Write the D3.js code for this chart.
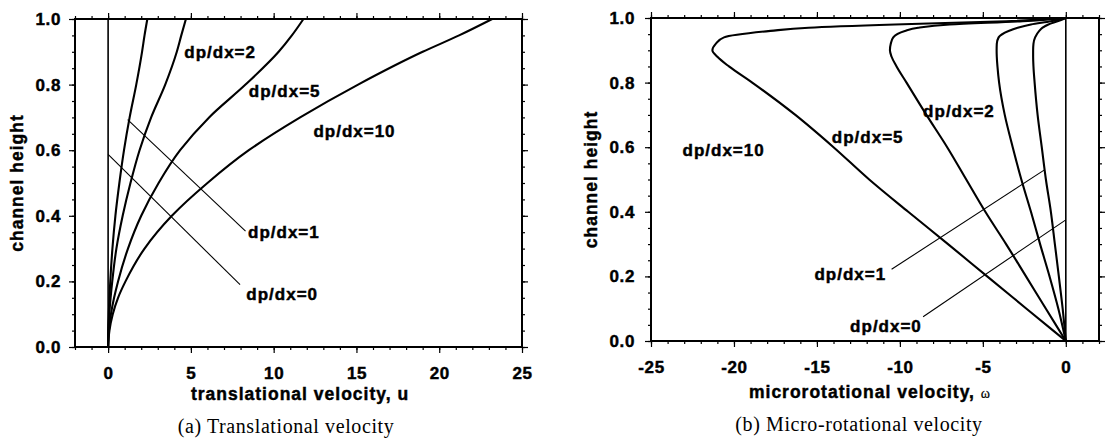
<!DOCTYPE html>
<html>
<head>
<meta charset="utf-8">
<script src="https://cdn.jsdelivr.net/npm/d3@7"></script>
<style>
  body { margin: 0; background: #fff; }
  svg text { font-family: "Liberation Sans", Arial, sans-serif; font-weight: bold; fill: #000; }
  svg text.heavy { stroke: #000; stroke-width: 0.45px; }
</style>
</head>
<body>
<svg id="chart" width="1115" height="441"></svg>
<script>
// ---- data ----

// (a) translational velocity u at each channel height
const uHeights = [0, 0.05, 0.1, 0.15, 0.2, 0.3, 0.4, 0.5, 0.6, 0.7, 0.8, 0.9, 0.95, 1.0];
const uGrad0   = [0, 0, 0, 0, 0, 0, 0, 0, 0, 0, 0, 0, 0, 0];
const uGrad1   = [0, 0.01, 0.04, 0.08, 0.13, 0.26, 0.44, 0.68, 0.96, 1.3, 1.7, 2.05, 2.2, 2.37];
const uGrad2   = [0, 0.02, 0.07, 0.15, 0.25, 0.5, 0.88, 1.35, 1.9, 2.6, 3.45, 4.15, 4.42, 4.7];
const uGrad5   = [0, 0.05, 0.17, 0.36, 0.6, 1.2, 2.0, 3.05, 4.35, 6.1, 8.3, 10.3, 11.1, 11.8];
const uGrad10  = [0, 0.08, 0.28, 0.6, 1.05, 2.2, 3.85, 6.0, 8.5, 11.6, 15.1, 19.0, 21.2, 23.2];

// (b) microrotational velocity w at each channel height
const wHeights = [0, 0.1, 0.2, 0.3, 0.4, 0.5, 0.6, 0.7, 0.8, 0.85, 0.88, 0.9, 0.92, 0.94, 0.96, 0.97, 0.98, 0.99, 1.0];
const wGrad0   = [0, 0, 0, 0, 0, 0, 0, 0, 0, 0, 0, 0, 0, 0, 0, 0, 0, 0, 0];
const wGrad1   = [0, -0.19, -0.42, -0.66, -0.9, -1.2, -1.45, -1.7, -1.88, -1.95, -1.97, -1.97, -1.95, -1.85, -1.6, -1.4, -1.05, -0.5, 0];
const wGrad2   = [0, -0.45, -0.98, -1.55, -2.1, -2.68, -3.2, -3.68, -4.02, -4.12, -4.16, -4.17, -4.16, -4.05, -3.45, -2.9, -2.1, -0.9, 0];
const wGrad5   = [0, -1.2, -2.4, -3.6, -4.85, -6.0, -7.15, -8.4, -9.6, -10.2, -10.5, -10.6, -10.55, -10.4, -9.7, -8.9, -7.0, -2.6, 0];
const wGrad10  = [0, -2.37, -4.74, -7.1, -9.5, -11.85, -14.0, -16.3, -18.9, -20.3, -21.0, -21.3, -21.1, -20.6, -17.8, -15.5, -10.3, -3.6, 0];

// axis ticks
const uTicks = [0, 5, 10, 15, 20, 25];
const wTicks = [-25, -20, -15, -10, -5, 0];
const hTicks = [0, 0.2, 0.4, 0.6, 0.8, 1.0];

// curve labels: text, left edge (x units), centre height
const uLabels = [
  { text: "dp/dx=2",  at: 4.6,  h: 0.9 },
  { text: "dp/dx=5",  at: 8.5,  h: 0.78 },
  { text: "dp/dx=10", at: 12.4, h: 0.66 },
  { text: "dp/dx=1",  at: 8.45, h: 0.35 },
  { text: "dp/dx=0",  at: 8.35, h: 0.162 }
];
const wLabels = [
  { text: "dp/dx=10", at: -23.1, h: 0.592 },
  { text: "dp/dx=5",  at: -14.1, h: 0.631 },
  { text: "dp/dx=2",  at: -8.6,  h: 0.711 },
  { text: "dp/dx=1",  at: -15.15, h: 0.208 },
  { text: "dp/dx=0",  at: -13.0, h: 0.048 }
];
// thin leader lines from curve to label
const uLeaders = [
  [[0, 0.587], [7.97, 0.19]],
  [[1.18, 0.693], [8.3, 0.353]]
];
const wLeaders = [
  [[-1.31, 0.529], [-10.5, 0.222]],
  [[0, 0.375], [-8.6, 0.075]]
];

const svg = d3.select("#chart");

function drawPanel(p) {
  const x = d3.scaleLinear().domain(p.xDomain).range([p.left, p.right]);
  const y = d3.scaleLinear().domain([0, 1]).range([p.bottom, p.top]);
  const g = svg.append("g");

  // minor ticks on all four sides
  const minorX = d3.range(p.xDomain[0], p.xDomain[1] + 0.001, 1);
  const minorY = d3.range(0, 1.001, 0.05);
  const strip = sel => sel.call(s => s.select(".domain").remove())
    .selectAll("line").attr("stroke", "#000").attr("stroke-width", 1.2);

  g.append("g").attr("transform", `translate(0,${p.bottom})`)
    .call(d3.axisBottom(x).tickValues(minorX).tickSize(3).tickFormat("")).call(strip);
  g.append("g").attr("transform", `translate(0,${p.top})`)
    .call(d3.axisTop(x).tickValues(minorX).tickSize(3).tickFormat("")).call(strip);
  g.append("g").attr("transform", `translate(${p.left},0)`)
    .call(d3.axisLeft(y).tickValues(minorY).tickSize(3).tickFormat("")).call(strip);
  g.append("g").attr("transform", `translate(${p.right},0)`)
    .call(d3.axisRight(y).tickValues(minorY).tickSize(3).tickFormat("")).call(strip);

  // major ticks
  g.append("g").attr("transform", `translate(0,${p.top})`)
    .call(d3.axisTop(x).tickValues(p.xTicks).tickSize(6).tickFormat("")).call(strip);
  g.append("g").attr("transform", `translate(${p.right},0)`)
    .call(d3.axisRight(y).tickValues(hTicks).tickSize(6).tickFormat("")).call(strip);

  // plain hyphen minus, as in the original print
  const xb = g.append("g").attr("transform", `translate(0,${p.bottom})`)
    .call(d3.axisBottom(x).tickValues(p.xTicks).tickSize(6).tickPadding(14).tickFormat(d => String(d)));
  strip(xb);
  xb.attr("font-size", null).attr("font-family", null);
  xb.selectAll("text").attr("class", "heavy").style("font-size", "17px").style("letter-spacing", "0.6px");

  const yl = g.append("g").attr("transform", `translate(${p.left},0)`)
    .call(d3.axisLeft(y).tickValues(hTicks).tickSize(6).tickPadding(p.yPad).tickFormat(d3.format(".1f")));
  strip(yl);
  yl.attr("font-size", null).attr("font-family", null);
  yl.selectAll("text").attr("class", "heavy").style("font-size", "17px").style("letter-spacing", "0.6px");

  // curves
  const line = d3.line()
    .x(d => x(d[0]))
    .y(d => y(d[1]))
    .curve(d3.curveMonotoneY);
  p.series.forEach((vals, i) => {
    g.append("path")
      .datum(vals.map((v, k) => [v, p.heights[k]]))
      .attr("fill", "none")
      .attr("stroke", "#000")
      .attr("stroke-width", i === 0 ? 1.6 : 2.1)
      .attr("stroke-linejoin", "round")
      .attr("d", line);
  });

  // leader lines
  p.leaders.forEach(seg => {
    g.append("line")
      .attr("x1", x(seg[0][0])).attr("y1", y(seg[0][1]))
      .attr("x2", x(seg[1][0])).attr("y2", y(seg[1][1]))
      .attr("stroke", "#000").attr("stroke-width", 1.1);
  });

  // curve labels
  g.selectAll("text.lbl")
    .data(p.labels)
    .join("text")
      .attr("class", "lbl heavy")
      .attr("x", d => x(d.at))
      .attr("y", d => y(d.h))
      .attr("dy", "0.36em")
      .style("font-size", "17px")
      .style("letter-spacing", "1px")
      .text(d => d.text);

  // frame
  g.append("rect")
    .attr("x", p.left).attr("y", p.top)
    .attr("width", p.right - p.left).attr("height", p.bottom - p.top)
    .attr("fill", "none").attr("stroke", "#000").attr("stroke-width", 2);

  // axis titles
  g.append("text")
    .attr("class", "heavy")
    .attr("transform", `translate(${p.yTitleX},${(p.top + p.bottom) / 2}) rotate(-90)`)
    .attr("text-anchor", "middle")
    .attr("dy", "0.36em")
    .style("font-size", "17.5px")
    .style("letter-spacing", "1px")
    .text("channel height");

  const xt = g.append("text")
    .attr("class", "heavy")
    .attr("x", p.xTitleX).attr("y", p.xTitleY)
    .attr("text-anchor", "middle")
    .style("font-size", "17.5px")
    .style("letter-spacing", "1px")
    .text(p.xTitle);
  if (p.xTitleSym) {
    xt.append("tspan")
      .style("font-family", "'Liberation Serif', 'Times New Roman', serif")
      .style("font-weight", "normal")
      .style("stroke-width", "0.2px")
      .style("font-size", "14px")
      .text(p.xTitleSym);
  }

  // caption under the panel
  g.append("text")
    .attr("x", p.capX).attr("y", p.capY)
    .attr("text-anchor", "middle")
    .style("font-family", "'Liberation Serif', 'Times New Roman', serif")
    .style("font-weight", "normal")
    .style("font-size", "20px")
    .style("letter-spacing", "0.6px")
    .text(p.caption);
}

drawPanel({
  left: 75, right: 522, top: 19, bottom: 347,
  xDomain: [-2, 25], xTicks: uTicks,
  heights: uHeights,
  series: [uGrad0, uGrad1, uGrad2, uGrad5, uGrad10],
  labels: uLabels, leaders: uLeaders,
  yPad: 8, yTitleX: 17,
  xTitle: "translational velocity, u", xTitleX: 300, xTitleY: 400,
  caption: "(a)  Translational velocity", capX: 286, capY: 433
});

drawPanel({
  left: 651, right: 1099, top: 18, bottom: 341,
  xDomain: [-25, 2], xTicks: wTicks,
  heights: wHeights,
  series: [wGrad0, wGrad1, wGrad2, wGrad5, wGrad10],
  labels: wLabels, leaders: wLeaders,
  yPad: 10, yTitleX: 591,
  xTitle: "microrotational velocity, ", xTitleSym: "ω", xTitleX: 870, xTitleY: 398,
  caption: "(b)  Micro-rotational velocity", capX: 859, capY: 431
});
</script>
</body>
</html>
